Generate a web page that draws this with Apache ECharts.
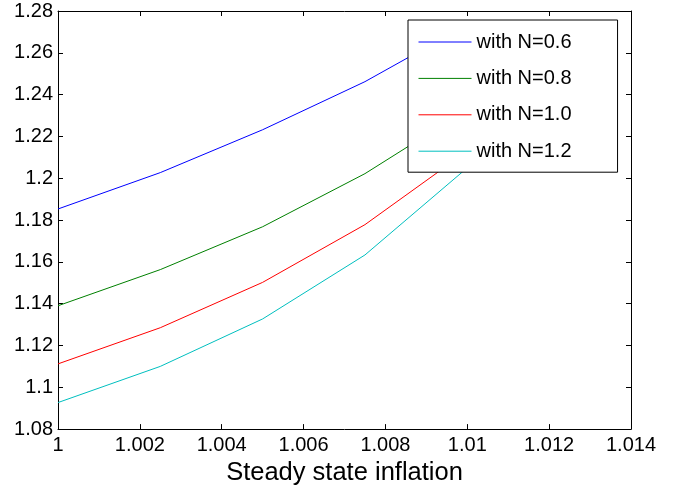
<!DOCTYPE html>
<html>
<head>
<meta charset="utf-8">
<script src="https://cdn.jsdelivr.net/npm/echarts@6/dist/echarts.min.js"></script>
<style>
  html, body { margin: 0; padding: 0; background: #fff; }
  #chart { width: 675px; height: 491px; }
</style>
</head>
<body>
<div id="chart"></div>
<script>
// Steady state inflation levels (x) and outcome for each N
const inflation = [1, 1.0025, 1.005, 1.0075, 1.01];
const seriesNames = ['with N=0.6', 'with N=0.8', 'with N=1.0', 'with N=1.2'];
const valuesN06 = [1.1853, 1.2027, 1.2232, 1.2462, 1.2735];
const valuesN08 = [1.1390, 1.1563, 1.1768, 1.2022, 1.2330];
const valuesN10 = [1.1112, 1.1285, 1.1502, 1.1778, 1.2130];
const valuesN12 = [1.0927, 1.1100, 1.1327, 1.1633, 1.2050];
const xTicks = [1, 1.002, 1.004, 1.006, 1.008, 1.01, 1.012, 1.014];
const yTicks = [1.08, 1.1, 1.12, 1.14, 1.16, 1.18, 1.2, 1.22, 1.24, 1.26, 1.28];

const colors = ['#0000ff', '#008000', '#ff0000', '#00bfbf'];
const allValues = [valuesN06, valuesN08, valuesN10, valuesN12];
const FONT = '"Liberation Sans", Arial, sans-serif';

const chart = echarts.init(document.getElementById('chart'), null, { renderer: 'canvas' });

const axisCommon = {
  axisLine: { show: true, onZero: false, lineStyle: { color: '#000', width: 1 } },
  axisTick: { show: true, inside: true, length: 5, lineStyle: { color: '#000', width: 1 } },
  splitLine: { show: false }
};

const tickFormatter = v => String(parseFloat(v.toFixed(4)));

const option = {
  animation: false,
  backgroundColor: '#fff',
  grid: { left: 58, right: 44, top: 11, bottom: 60, containLabel: false },
  xAxis: [
    Object.assign({
      type: 'value', min: xTicks[0], max: xTicks[xTicks.length - 1], interval: 0.002,
      position: 'bottom',
      name: 'Steady state inflation', nameLocation: 'middle', nameGap: 29,
      nameTextStyle: { fontFamily: FONT, fontSize: 25.5, color: '#000' },
      axisLabel: { fontFamily: FONT, fontSize: 20, color: '#000', margin: 6, formatter: tickFormatter }
    }, axisCommon),
    Object.assign({
      type: 'value', min: xTicks[0], max: xTicks[xTicks.length - 1], interval: 0.002,
      position: 'top', axisLabel: { show: false }
    }, axisCommon)
  ],
  yAxis: [
    Object.assign({
      type: 'value', min: yTicks[0], max: yTicks[yTicks.length - 1], interval: 0.02,
      position: 'left',
      axisLabel: { fontFamily: FONT, fontSize: 20, color: '#000', margin: 5, formatter: tickFormatter }
    }, axisCommon),
    Object.assign({
      type: 'value', min: yTicks[0], max: yTicks[yTicks.length - 1], interval: 0.02,
      position: 'right', axisLabel: { show: false }
    }, axisCommon)
  ],
  legend: {
    orient: 'vertical',
    left: 408, top: 20,
    padding: [12, 46, 11, 10],
    itemWidth: 53, itemHeight: 20, itemGap: 16.4,
    borderColor: '#000', borderWidth: 1, backgroundColor: '#fff',
    textStyle: { fontFamily: FONT, fontSize: 20, color: '#000' },
    itemStyle: { opacity: 0 },
    lineStyle: { width: 1 },
    data: seriesNames,
    z: 10
  },
  series: seriesNames.map((name, i) => ({
    name: name,
    type: 'line',
    data: inflation.map((x, j) => [x, allValues[i][j]]),
    showSymbol: false,
    symbol: 'none',
    color: colors[i],
    lineStyle: { color: colors[i], width: 1 },
    itemStyle: { color: colors[i] },
    z: 2
  }))
};

chart.setOption(option);
</script>
</body>
</html>
